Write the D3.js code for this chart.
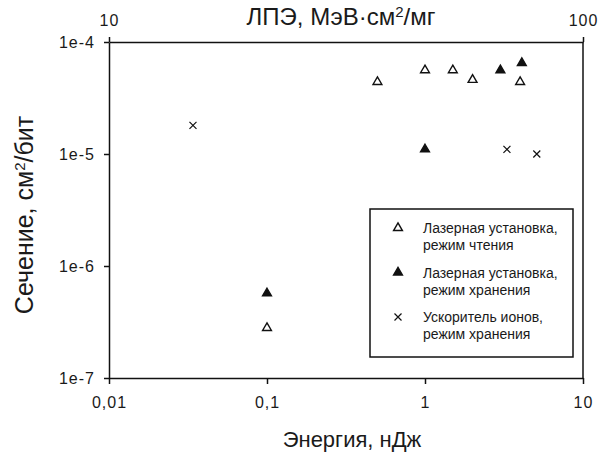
<!DOCTYPE html>
<html>
<head>
<meta charset="utf-8">
<script src="https://cdn.jsdelivr.net/npm/d3@7"></script>
<style>
  body { margin: 0; background: #fff; }
  text { font-family: "Liberation Sans", Arial, sans-serif; fill: #1a1a1a; }
</style>
</head>
<body>
<div id="chart"></div>
<script>
// data: energy (nJ) vs cross-section (cm2/bit)
const readEnergy = [0.1, 0.5, 1, 1.5, 2, 4];
const readSigma = [2.8e-7, 4.4e-5, 5.6e-5, 5.6e-5, 4.6e-5, 4.4e-5];

const storeEnergy = [0.1, 1, 3, 4.1];
const storeSigma = [5.7e-7, 1.1e-5, 5.6e-5, 6.5e-5];

const ionEnergy = [0.034, 3.3, 5.1];
const ionSigma = [1.8e-5, 1.1e-5, 1.0e-5];

const xTicks = [0.01, 0.1, 1, 10];
const xTickLabels = ['0,01', '0,1', '1', '10'];
const yTicks = [1e-7, 1e-6, 1e-5, 1e-4];
const yTickLabels = ['1e-7', '1e-6', '1e-5', '1e-4'];
const topTicks = [10, 100];

const legendLabels = [
    ['Лазерная установка,', 'режим чтения'],
    ['Лазерная установка,', 'режим хранения'],
    ['Ускоритель ионов,', 'режим хранения']
];

// measures
const width = 600;
const height = 452;
const margin = {top: 42, right: 17, bottom: 74, left: 109};
const plotW = width - margin.left - margin.right;
const plotH = height - margin.top - margin.bottom;
const lineColor = '#111';

const svg = d3.select('#chart').append('svg')
    .attr('width', width)
    .attr('height', height);

const x = d3.scaleLog().domain([0.01, 10]).range([0, plotW]);
const xTop = d3.scaleLog().domain([10, 100]).range([0, plotW]);
const y = d3.scaleLog().domain([1e-7, 1e-4]).range([plotH, 0]);

const g = svg.append('g').attr('transform', `translate(${margin.left},${margin.top})`);

drawAxes();
drawPoints();
drawLegend();
drawTitles();

function styleAxis(sel) {
    sel.select('.domain').attr('stroke', lineColor).attr('stroke-width', 1.5);
    sel.selectAll('.tick line').attr('stroke', lineColor).attr('stroke-width', 1.5);
    sel.selectAll('.tick text')
        .attr('fill', '#1a1a1a')
        .style('font-family', '"Liberation Sans", Arial, sans-serif')
        .style('font-size', '16px')
        .style('letter-spacing', '1px');
}

function drawAxes() {
    // right border
    g.append('line')
        .attr('x1', plotW).attr('x2', plotW)
        .attr('y1', 0).attr('y2', plotH)
        .attr('stroke', lineColor).attr('stroke-width', 1.5);

    const bottom = g.append('g')
        .attr('transform', `translate(0,${plotH})`)
        .call(d3.axisBottom(x).tickValues(xTicks)
            .tickFormat((d, i) => xTickLabels[i]).tickSize(6).tickSizeOuter(0).tickPadding(13));
    styleAxis(bottom);

    const left = g.append('g')
        .call(d3.axisLeft(y).tickValues(yTicks)
            .tickFormat((d, i) => yTickLabels[i]).tickSize(5).tickSizeOuter(0).tickPadding(9));
    styleAxis(left);

    const top = g.append('g')
        .call(d3.axisTop(xTop).tickValues(topTicks)
            .tickFormat(d3.format('d')).tickSize(5).tickSizeOuter(0).tickPadding(11));
    styleAxis(top);
}

function marker(sel, type) {
    if (type === 'cross') {
        sel.append('path')
            .attr('d', 'M-3.5,-3.5L3.5,3.5M-3.5,3.5L3.5,-3.5')
            .attr('stroke', lineColor)
            .attr('stroke-width', 1.2)
            .attr('fill', 'none');
    } else {
        sel.append('path')
            .attr('d', d3.symbol().type(d3.symbolTriangle).size(34)())
            .attr('fill', type === 'filled' ? lineColor : '#fff')
            .attr('stroke', lineColor)
            .attr('stroke-width', 1.4);
    }
}

function drawSeries(xs, ys, type) {
    xs.forEach((v, i) => {
        const m = g.append('g')
            .attr('transform', `translate(${x(v)},${y(ys[i])})`);
        marker(m, type);
    });
}

function drawPoints() {
    drawSeries(readEnergy, readSigma, 'open');
    drawSeries(storeEnergy, storeSigma, 'filled');
    drawSeries(ionEnergy, ionSigma, 'cross');
}

function drawLegend() {
    const lg = svg.append('g').attr('transform', 'translate(370,209)');
    lg.append('rect')
        .attr('x', 0).attr('y', 0)
        .attr('width', 203).attr('height', 148)
        .attr('fill', '#fff')
        .attr('stroke', lineColor)
        .attr('stroke-width', 1.5);
    const types = ['open', 'filled', 'cross'];
    legendLabels.forEach((lines, i) => {
        const yy = 19 + i * 44.5;
        const m = lg.append('g').attr('transform', `translate(28,${yy})`);
        marker(m, types[i]);
        const t = lg.append('text')
            .attr('x', 53)
            .attr('y', yy + 5)
            .style('font-size', '14px');
        lines.forEach((s, j) => {
            t.append('tspan')
                .attr('x', 53)
                .attr('dy', j === 0 ? 0 : 17)
                .text(s);
        });
    });
}

function drawTitles() {
    const title = svg.append('text')
        .attr('x', 341)
        .attr('y', 25)
        .attr('text-anchor', 'middle')
        .style('font-size', '24px');
    title.append('tspan').text('ЛПЭ, МэВ·см');
    title.append('tspan').attr('dy', -8).style('font-size', '15px').text('2');
    title.append('tspan').attr('dy', 8).text('/мг');

    svg.append('text')
        .attr('x', 352)
        .attr('y', 447)
        .attr('text-anchor', 'middle')
        .style('font-size', '22px')
        .text('Энергия, нДж');

    const yl = svg.append('text')
        .attr('transform', `translate(33,215) rotate(-90)`)
        .attr('text-anchor', 'middle')
        .style('font-size', '25px');
    yl.append('tspan').text('Сечение, см');
    yl.append('tspan').attr('dy', -8).style('font-size', '15px').text('2');
    yl.append('tspan').attr('dy', 8).text('/бит');
}
</script>
</body>
</html>
